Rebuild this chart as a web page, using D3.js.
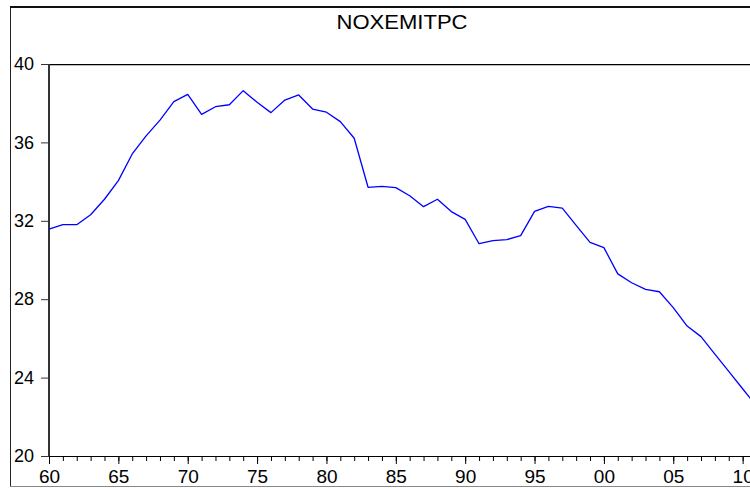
<!DOCTYPE html>
<html>
<head>
<meta charset="utf-8">
<script src="https://cdn.jsdelivr.net/npm/d3@7"></script>
<style>
    body { margin: 0; background: #fff; }
    #chart-area { width: 750px; height: 488px; overflow: hidden; }
    text { font-family: "Liberation Sans", Arial, sans-serif; fill: #000; }
</style>
</head>
<body>
<div id="chart-area"></div>
<script>

// series: NOXEMITPC, annual, 1960 - 2011
let years = [1960, 1961, 1962, 1963, 1964, 1965, 1966, 1967, 1968, 1969,
    1970, 1971, 1972, 1973, 1974, 1975, 1976, 1977, 1978, 1979,
    1980, 1981, 1982, 1983, 1984, 1985, 1986, 1987, 1988, 1989,
    1990, 1991, 1992, 1993, 1994, 1995, 1996, 1997, 1998, 1999,
    2000, 2001, 2002, 2003, 2004, 2005, 2006, 2007, 2008, 2009,
    2010, 2011];

let noxValues = [31.58, 31.80, 31.80, 32.31, 33.10, 34.05, 35.41, 36.33, 37.14, 38.08,
    38.45, 37.43, 37.82, 37.92, 38.64, 38.05, 37.52, 38.16, 38.42, 37.70,
    37.54, 37.06, 36.21, 33.71, 33.76, 33.69, 33.28, 32.72, 33.10, 32.47,
    32.07, 30.83, 30.99, 31.04, 31.24, 32.48, 32.74, 32.65, 31.77, 30.90,
    30.63, 29.29, 28.84, 28.50, 28.38, 27.57, 26.63, 26.09, 25.20, 24.32,
    23.43, 22.55];

let yTicks = [20, 24, 28, 32, 36, 40];
let xTickYears = [1960, 1965, 1970, 1975, 1980, 1985, 1990, 1995, 2000, 2005, 2010];
let xTickLabels = ["60", "65", "70", "75", "80", "85", "90", "95", "00", "05", "10"];

let seriesTitle = "NOXEMITPC";


class LineVis {

    constructor(parentElement) {
        this.parentElement = parentElement;
        this.initVis();
    }

    initVis() {
        let vis = this;

        // plot box (runs off the right edge of the window, like the source)
        vis.margin = {top: 64, left: 49, bottom: 32};
        vis.width = 707.5;
        vis.height = 488 - vis.margin.top - vis.margin.bottom;

        vis.svg = d3.select("#" + vis.parentElement).append("svg")
            .attr("width", 750)
            .attr("height", 488);

        // outer frame
        vis.svg.append("rect")
            .attr("x", 10.5)
            .attr("y", 6.5)
            .attr("width", 800)
            .attr("height", 480)
            .attr("fill", "none")
            .attr("stroke", "#222")
            .attr("stroke-width", 1);
        vis.svg.append("line")
            .attr("x1", 10).attr("x2", 760)
            .attr("y1", 7).attr("y2", 7)
            .attr("stroke", "#111")
            .attr("stroke-width", 2);
        vis.svg.append("line")
            .attr("x1", 10).attr("x2", 760)
            .attr("y1", 486.5).attr("y2", 486.5)
            .attr("stroke", "#888")
            .attr("stroke-width", 1);

        // title (source font is a bit wide)
        vis.svg.append("text")
            .attr("x", 402)
            .attr("y", 29)
            .attr("text-anchor", "middle")
            .attr("textLength", 131)
            .attr("lengthAdjust", "spacingAndGlyphs")
            .style("font-size", "20px")
            .text(seriesTitle);

        vis.g = vis.svg.append("g")
            .attr("transform", `translate(${vis.margin.left}, ${vis.margin.top})`);

        // scales
        vis.x = d3.scaleLinear()
            .domain([years[0], years[years.length - 1]])
            .range([0, vis.width]);

        vis.y = d3.scaleLinear()
            .domain([20, 40])
            .range([vis.height, 0]);

        // top border of the plot box
        vis.g.append("line")
            .attr("x1", 0).attr("x2", vis.width + 10)
            .attr("y1", 0.5).attr("y2", 0.5)
            .attr("stroke", "#000");
        vis.g.append("line")
            .attr("x1", 0).attr("x2", vis.width + 10)
            .attr("y1", 1.5).attr("y2", 1.5)
            .attr("stroke", "#bbb");

        // x axis: minor ticks every year, major every 5
        vis.g.append("g")
            .attr("class", "x-minor")
            .attr("transform", `translate(0, ${vis.height})`)
            .call(d3.axisBottom(vis.x).tickValues(years).tickSize(5).tickFormat(""))
            .call(g => g.select(".domain").remove());

        vis.xAxis = d3.axisBottom(vis.x)
            .tickValues(xTickYears)
            .tickSize(8)
            .tickPadding(6)
            .tickFormat((d, i) => xTickLabels[i]);

        vis.g.append("g")
            .attr("class", "x-axis")
            .attr("transform", `translate(0, ${vis.height})`)
            .call(vis.xAxis)
            .call(g => g.select(".domain").attr("d", `M0,0.5H${vis.width + 10}`).attr("stroke", "#000"))
            .call(g => g.selectAll("text").style("font-size", "19px").attr("font-family", null));

        // y axis
        vis.yAxis = d3.axisLeft(vis.y)
            .tickValues(yTicks)
            .tickSize(8)
            .tickPadding(7);

        vis.g.append("g")
            .attr("class", "y-axis")
            .call(vis.yAxis)
            .call(g => g.select(".domain").attr("d", `M0,0V${vis.height}`).attr("stroke", "#333").attr("stroke-width", 2))
            .call(g => g.selectAll(".tick line").attr("stroke", "#333"))
            .call(g => g.selectAll("text").style("font-size", "18px").attr("font-family", null));

        vis.wrangleData();
    }

    wrangleData() {
        let vis = this;

        vis.displayData = years.map((yr, i) => ({year: yr, value: noxValues[i]}));

        vis.updateVis();
    }

    updateVis() {
        let vis = this;

        vis.line = d3.line()
            .x(d => vis.x(d.year))
            .y(d => vis.y(d.value));

        vis.g.append("path")
            .datum(vis.displayData)
            .attr("fill", "none")
            .attr("stroke", "#0000ff")
            .attr("stroke-width", 1.3)
            .attr("stroke-linejoin", "round")
            .attr("d", vis.line);
    }
}

let myLineVis = new LineVis("chart-area");

</script>
</body>
</html>
